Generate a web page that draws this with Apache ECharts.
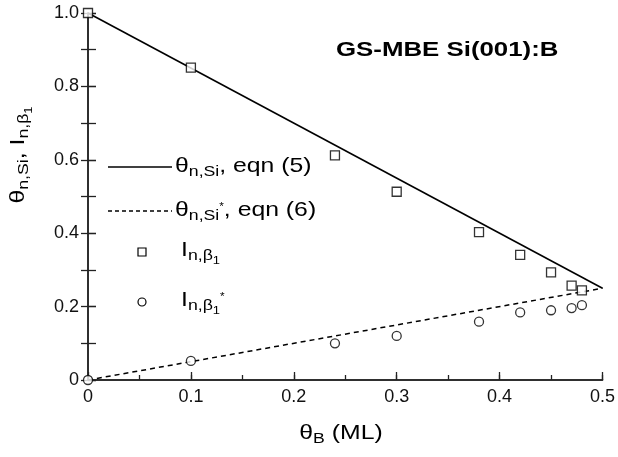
<!DOCTYPE html>
<html>
<head>
<meta charset="utf-8">
<script src="https://cdn.jsdelivr.net/npm/echarts@6/dist/echarts.min.js"></script>
<style>
  html, body { margin: 0; padding: 0; background: #fff; }
  #chart { width: 618px; height: 457px; }
</style>
</head>
<body>
<div id="chart"></div>
<script>
// Boron coverage (ML) at which the measurements were taken
const thetaB = [0, 0.1, 0.24, 0.3, 0.38, 0.42, 0.45, 0.47, 0.48];
// Normalised intensity of the beta1 feature (squares)
const intensityBeta1 = [1.0, 0.851, 0.612, 0.513, 0.403, 0.341, 0.293, 0.257, 0.244];
// Normalised intensity of the beta1* feature (circles)
const intensityBeta1Star = [0.0, 0.052, 0.10, 0.12, 0.159, 0.184, 0.19, 0.196, 0.204];
// Model curves: eqn (5) and eqn (6), evaluated at the ends of the range
const modelX = [0, 0.5];
const eqn5 = [1.0, 0.25];
const eqn6 = [0.0, 0.25];

const FONT = '"Liberation Sans", Arial, Helvetica, sans-serif';
const INK = '#111';
const STRETCH = 1.18;   // the lettering is set slightly wide

const pair = (xs, ys) => xs.map((x, i) => [x, ys[i]]);
const tickFmt = v => (Math.abs(v) < 1e-9 ? '0' : v.toFixed(1));

// rich text styles for sub / superscripts
const rich = {
  m: { fontFamily: FONT, fontSize: 21, color: INK },
  s: { fontFamily: FONT, fontSize: 15, color: INK, padding: [12, 0, 0, 0] },
  ss: { fontFamily: FONT, fontSize: 11, color: INK, padding: [22, 0, 0, 0] },
  sup: { fontFamily: FONT, fontSize: 10, color: INK, padding: [0, 0, 6, 0] }
};

const chart = echarts.init(document.getElementById('chart'), null, { renderer: 'canvas' });

const axisLine = { show: true, lineStyle: { color: '#222', width: 1.5 } };
const tickStyle = { color: '#222', width: 1.3 };
const bare = { axisLine: { show: false }, axisLabel: { show: false }, splitLine: { show: false } };

const legendTexts = [
  '{m|θ}{s|n,Si}{m|, eqn (5)}',
  '{m|θ}{s|n,Si}{sup|*}{m|, eqn (6)}',
  '{m|I}{s|n,β}{ss|1}',
  '{m|I}{s|n,β}{ss|1}{sup|*}'
];
const legendY = [166, 210, 250, 300];
const legendX = [175, 175, 181, 181];

chart.setOption({
  animation: false,
  backgroundColor: '#fff',
  grid: { left: 88, right: 15, top: 13, bottom: 77, containLabel: false },
  xAxis: [
    {
      type: 'value', min: 0, max: 0.5, interval: 0.1,
      axisLine: axisLine,
      axisTick: { show: true, inside: true, length: 8, lineStyle: tickStyle },
      splitLine: { show: false },
      axisLabel: { formatter: tickFmt, fontFamily: FONT, fontSize: 18, color: INK, margin: 8 }
    },
    {
      type: 'value', min: 0, max: 0.5, position: 'top',
      axisLine: axisLine, axisTick: { show: false }, axisLabel: { show: false },
      splitLine: { show: false }
    },
    Object.assign({
      type: 'value', min: 0, max: 0.5, interval: 0.05, position: 'bottom',
      axisTick: { show: true, inside: true, length: 5, lineStyle: tickStyle }
    }, bare)
  ],
  yAxis: [
    {
      type: 'value', min: 0, max: 1, interval: 0.2,
      axisLine: axisLine,
      axisTick: { show: true, inside: true, length: 8, lineStyle: tickStyle },
      splitLine: { show: false },
      axisLabel: { formatter: tickFmt, fontFamily: FONT, fontSize: 18, color: INK, margin: 9 }
    },
    {
      type: 'value', min: 0, max: 1, interval: 0.1, position: 'right',
      axisLine: axisLine,
      axisTick: { show: true, inside: true, length: 7, lineStyle: tickStyle },
      axisLabel: { show: false }, splitLine: { show: false }
    },
    Object.assign({
      type: 'value', min: 0, max: 1, interval: 0.1, position: 'left',
      axisTick: { show: true, inside: true, length: 8, lineStyle: tickStyle }
    }, bare)
  ],
  series: [
    {
      name: 'eqn5', type: 'line', data: pair(modelX, eqn5), showSymbol: false, symbol: 'none',
      lineStyle: { color: '#000', width: 1.6 }, z: 2
    },
    {
      name: 'eqn6', type: 'line', data: pair(modelX, eqn6), showSymbol: false, symbol: 'none',
      lineStyle: { color: '#000', width: 1.5, type: [5, 4] }, z: 2
    },
    {
      name: 'beta1', type: 'scatter', data: pair(thetaB, intensityBeta1), symbol: 'rect', symbolSize: 9,
      clip: false, itemStyle: { color: '#fff', borderColor: '#000', borderWidth: 1.3 }, z: 3
    },
    {
      name: 'beta1star', type: 'scatter', data: pair(thetaB, intensityBeta1Star), symbol: 'circle', symbolSize: 9,
      clip: false, itemStyle: { color: '#fff', borderColor: '#000', borderWidth: 1.3 }, z: 3
    }
  ],
  graphic: [
    {
      type: 'text', x: 336, y: 50, scaleX: 1.23, z: 10,
      style: { text: 'GS-MBE Si(001):B', fontFamily: FONT, fontSize: 21, fontWeight: 'bold', fill: '#000',
               align: 'left', verticalAlign: 'middle' }
    },
    // axis titles
    {
      type: 'text', x: 341, y: 433, scaleX: STRETCH, z: 10,
      style: { text: '{m|θ}{s|B}{m| (ML)}', rich: rich, align: 'center', verticalAlign: 'middle' }
    },
    {
      type: 'text', x: 18, y: 155, rotation: Math.PI / 2, scaleX: STRETCH, z: 10,
      style: { text: '{m|θ}{s|n,Si}{m|, I}{s|n,β}{ss|1}', rich: rich, align: 'center', verticalAlign: 'middle' }
    },
    // legend samples
    { type: 'line', shape: { x1: 108, y1: 167, x2: 172, y2: 167 }, style: { stroke: '#000', lineWidth: 1.5 }, z: 10 },
    { type: 'line', shape: { x1: 108, y1: 211, x2: 172, y2: 211 }, style: { stroke: '#000', lineWidth: 1.4, lineDash: [4, 3] }, z: 10 },
    { type: 'rect', shape: { x: 138, y: 248, width: 8, height: 8 }, style: { fill: '#fff', stroke: '#000', lineWidth: 1.2 }, z: 10 },
    { type: 'circle', shape: { cx: 142, cy: 302, r: 4 }, style: { fill: '#fff', stroke: '#000', lineWidth: 1.2 }, z: 10 }
  ].concat(legendTexts.map((t, i) => ({
    type: 'text', x: legendX[i], y: legendY[i], scaleX: STRETCH, z: 10,
    style: { text: t, rich: rich, verticalAlign: 'middle', align: 'left' }
  })))
});
</script>
</body>
</html>
